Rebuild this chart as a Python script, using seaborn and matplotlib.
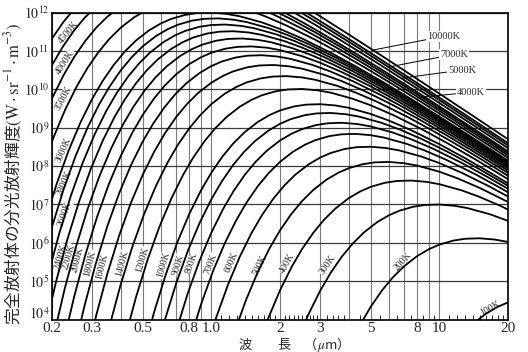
import matplotlib
matplotlib.use("Agg")
import matplotlib.pyplot as plt
import matplotlib.transforms as mtransforms
from matplotlib.ticker import FixedLocator, FixedFormatter, NullFormatter
import pandas as pd
import seaborn as sns

# ---------------------------
# Data
# ---------------------------
# points at fixed values of wavelength*temperature (um*K);
# the wavelength of a point is lam_t / T
lam_t = [400, 450, 500, 560, 630, 710, 800, 900, 1000, 1120, 1250, 1400, 1600, 1800,
         2000, 2300, 2600, 3000, 3500, 4000, 5000, 6000, 7500, 10000, 13000, 17000,
         22000, 30000, 40000, 55000, 75000, 100000, 140000, 200000]

# exponent of the spectral radiance (log10 of W sr^-1 m^-3), first value at lam_t[start]
k100 = [3.882, 4.150, 4.328, 4.447]
k200 = [3.867, 4.332, 4.756, 5.098, 5.387, 5.655, 5.833, 5.952, 6.056, 6.104, 6.116,
        6.083, 6.021]
k300 = [3.405, 4.136, 4.748, 5.213, 5.637, 5.978, 6.268, 6.536, 6.714, 6.833, 6.937,
        6.985, 6.997, 6.963, 6.901, 6.742, 6.571]
k400 = [3.171, 4.029, 4.760, 5.372, 5.837, 6.261, 6.603, 6.892, 7.160, 7.338, 7.457,
        7.561, 7.609, 7.621, 7.588, 7.526, 7.367, 7.195, 6.947, 6.579]
k500 = [3.656, 4.514, 5.245, 5.857, 6.322, 6.746, 7.087, 7.377, 7.645, 7.823, 7.942,
        8.046, 8.094, 8.106, 8.072, 8.011, 7.851, 7.680, 7.431, 7.063]
k600 = [3.068, 4.052, 4.910, 5.641, 6.253, 6.718, 7.142, 7.483, 7.773, 8.041, 8.219,
        8.338, 8.442, 8.490, 8.502, 8.468, 8.406, 8.247, 8.076, 7.827, 7.459, 7.091]
k700 = [3.403, 4.387, 5.245, 5.976, 6.588, 7.053, 7.477, 7.818, 8.108, 8.376, 8.554,
        8.673, 8.777, 8.825, 8.837, 8.803, 8.741, 8.582, 8.411, 8.162, 7.794, 7.425,
        7.025]
k800 = [3.692, 4.676, 5.534, 6.265, 6.877, 7.342, 7.766, 8.108, 8.397, 8.665, 8.843,
        8.962, 9.066, 9.114, 9.126, 9.093, 9.031, 8.872, 8.701, 8.452, 8.084, 7.715,
        7.315]
k900 = [2.855, 3.948, 4.932, 5.790, 6.521, 7.133, 7.598, 8.022, 8.364, 8.653, 8.921,
        9.099, 9.218, 9.322, 9.370, 9.382, 9.349, 9.287, 9.128, 8.956, 8.708, 8.340,
        7.971, 7.571, 7.170]
k1000 = [3.084, 4.177, 5.161, 6.019, 6.750, 7.362, 7.827, 8.251, 8.593, 8.882, 9.150,
         9.328, 9.447, 9.551, 9.599, 9.611, 9.578, 9.516, 9.356, 9.185, 8.937, 8.569,
         8.200, 7.799, 7.399]
k1200 = [3.480, 4.573, 5.557, 6.415, 7.146, 7.758, 8.223, 8.647, 8.988, 9.278, 9.546,
         9.724, 9.843, 9.947, 9.995, 10.007, 9.973, 9.912, 9.752, 9.581, 9.332, 8.965,
         8.596, 8.195, 7.794, 7.297]
k1400 = [3.815, 4.908, 5.892, 6.750, 7.481, 8.093, 8.558, 8.982, 9.323, 9.613, 9.881,
         10.059, 10.178, 10.282, 10.330, 10.342, 10.308, 10.246, 10.087, 9.916, 9.667,
         9.299, 8.930, 8.530, 8.129, 7.632]
k1600 = [2.945, 4.105, 5.198, 6.182, 7.040, 7.771, 8.383, 8.848, 9.272, 9.613, 9.903,
         10.171, 10.349, 10.468, 10.572, 10.620, 10.632, 10.598, 10.536, 10.377, 10.206,
         9.957, 9.589, 9.220, 8.820, 8.419, 7.922, 7.450]
k1800 = [3.200, 4.360, 5.453, 6.437, 7.295, 8.026, 8.638, 9.103, 9.527, 9.869, 10.158,
         10.426, 10.604, 10.723, 10.827, 10.875, 10.887, 10.854, 10.792, 10.633, 10.462,
         10.213, 9.845, 9.476, 9.076, 8.675, 8.178, 7.706]
k2000 = [3.429, 4.589, 5.682, 6.666, 7.524, 8.255, 8.867, 9.332, 9.756, 10.098, 10.387,
         10.655, 10.833, 10.952, 11.056, 11.104, 11.116, 11.083, 11.021, 10.862, 10.690,
         10.442, 10.074, 9.705, 9.305, 8.904, 8.406, 7.934]
k2200 = [3.636, 4.796, 5.889, 6.873, 7.731, 8.462, 9.074, 9.539, 9.963, 10.305, 10.594,
         10.862, 11.040, 11.159, 11.263, 11.311, 11.323, 11.290, 11.228, 11.069, 10.897,
         10.649, 10.281, 9.912, 9.512, 9.111, 8.613, 8.141, 7.611]
k2400 = [3.825, 4.985, 6.078, 7.062, 7.920, 8.651, 9.263, 9.728, 10.152, 10.494, 10.783,
         11.051, 11.229, 11.348, 11.452, 11.500, 11.512, 11.479, 11.417, 11.258, 11.086,
         10.838, 10.470, 10.101, 9.700, 9.300, 8.802, 8.330, 7.800]
k2600 = [5.159, 6.252, 7.236, 8.094, 8.825, 9.437, 9.902, 10.326, 10.667, 10.957, 11.225,
         11.403, 11.522, 11.626, 11.674, 11.686, 11.652, 11.591, 11.431, 11.260, 11.011,
         10.644, 10.275, 9.874, 9.473, 8.976, 8.504, 7.973]
k2800 = [5.320, 6.413, 7.397, 8.255, 8.986, 9.598, 10.063, 10.487, 10.828, 11.118, 11.386,
         11.564, 11.683, 11.787, 11.835, 11.847, 11.813, 11.751, 11.592, 11.421, 11.172,
         10.804, 10.436, 10.035, 9.634, 9.137, 8.665, 8.134, 7.611]
k3000 = [6.563, 7.547, 8.405, 9.136, 9.748, 10.213, 10.637, 10.978, 11.268, 11.536,
         11.714, 11.833, 11.937, 11.985, 11.997, 11.963, 11.901, 11.742, 11.571, 11.322,
         10.954, 10.585, 10.185, 9.784, 9.287, 8.815, 8.284, 7.761]
k3500 = [7.881, 8.739, 9.470, 10.082, 10.547, 10.971, 11.313, 11.602, 11.870, 12.048,
         12.167, 12.271, 12.319, 12.331, 12.298, 12.236, 12.077, 11.905, 11.657, 11.289,
         10.920, 10.520, 10.119, 9.621, 9.150, 8.619, 8.096]
k4000 = [9.029, 9.760, 10.372, 10.837, 11.261, 11.603, 11.892, 12.160, 12.338, 12.457,
         12.561, 12.609, 12.621, 12.588, 12.526, 12.367, 12.195, 11.947, 11.579, 11.210,
         10.810, 10.409, 9.911, 9.440, 8.909, 8.386, 7.897]
k4500 = [10.016, 10.628, 11.093, 11.517, 11.859, 12.148, 12.416, 12.594, 12.713, 12.817,
         12.865, 12.877, 12.844, 12.782, 12.623, 12.451, 12.203, 11.835, 11.466, 11.066,
         10.665, 10.167, 9.695, 9.165, 8.642, 8.152]
k5000 = [10.857, 11.322, 11.746, 12.087, 12.377, 12.645, 12.823, 12.942, 13.046, 13.094,
         13.106, 13.072, 13.011, 12.851, 12.680, 12.431, 12.063, 11.695, 11.294, 10.893,
         10.396, 9.924, 9.393, 8.870, 8.381]
k6000 = [12.459, 12.091, 11.690, 11.289, 10.792, 10.320, 9.789, 9.266, 8.777, 8.202]
k7000 = [12.425, 12.025, 11.624, 11.127, 10.655, 10.124, 9.601, 9.112, 8.536]
k8000 = [12.315, 11.914, 11.417, 10.945, 10.414, 9.891, 9.402, 8.826, 8.214]
k10000 = [12.399, 11.901, 11.429, 10.899, 10.375, 9.886, 9.311, 8.698]

# (temperature K, start index in lam_t, values)
curves = [
    (100, 11, k100), (200, 7, k200), (300, 5, k300), (400, 4, k400), (500, 4, k500),
    (600, 3, k600), (700, 3, k700), (800, 3, k800), (900, 2, k900), (1000, 2, k1000),
    (1200, 2, k1200), (1400, 2, k1400), (1600, 1, k1600), (1800, 1, k1800),
    (2000, 1, k2000), (2200, 1, k2200), (2400, 1, k2400), (2600, 2, k2600),
    (2800, 2, k2800), (3000, 3, k3000), (3500, 4, k3500), (4000, 5, k4000),
    (4500, 6, k4500), (5000, 7, k5000), (6000, 23, k6000), (7000, 24, k7000),
    (8000, 25, k8000), (10000, 26, k10000),
]

# on-curve labels: text, wavelength, radiance exponent, angle
left_labels = [
    ("4500K", 0.236, 11.49, 50), ("4000K", 0.228, 10.71, 57), ("3500K", 0.224, 9.76, 62),
    ("3000K", 0.224, 8.41, 66), ("2800K", 0.228, 7.55, 67), ("2600K", 0.228, 6.75, 70),
    ("2400K", 0.219, 5.63, 74), ("2200K", 0.237, 5.63, 74), ("2000K", 0.260, 5.55, 75),
    ("1800K", 0.294, 5.47, 76), ("1600K", 0.331, 5.39, 76), ("1400K", 0.406, 5.45, 75),
    ("1200K", 0.496, 5.55, 74), ("1000K", 0.614, 5.42, 74), ("900K", 0.714, 5.42, 73),
    ("800K", 0.822, 5.47, 72), ("700K", 0.996, 5.45, 70), ("600K", 1.22, 5.50, 67),
    ("500K", 1.63, 5.42, 64), ("400K", 2.14, 5.47, 60), ("300K", 3.24, 5.42, 56),
    ("200K", 6.9, 5.52, 48), ("100K", 16.7, 4.30, 30),
]
# labels with leader lines: text, label (wavelength, exp), tip (wavelength, exp)
leader_labels = [
    ("10000K", 8.83, 11.38, 5.10, 11.02),
    ("7000K", 10.1, 10.91, 5.94, 10.575),
    ("5000K", 10.9, 10.50, 6.85, 10.29),
    ("4000K", 11.9, 9.92, 8.22, 9.79),
]

x_grid = [0.2, 0.3, 0.4, 0.5, 0.6, 0.7, 0.8, 0.9, 1.0, 2, 3, 4, 5, 6, 7, 8, 9, 10, 20]
x_ticklabels = ["0.2", "0.3", "", "0.5", "", "", "0.8", "", "1.0", "2", "3", "", "5",
                "", "", "8", "", "10", "20"]
x_small = [1.1, 1.2, 1.3, 1.4, 1.5, 1.6, 1.7, 1.8, 1.9, 2.1, 2.2, 2.3, 2.4, 2.5, 2.6,
           2.7, 2.8, 2.9, 3.2, 3.4, 3.6, 3.8, 4.5, 5.5, 6.5, 7.5, 8.5, 9.5,
           11, 12, 13, 14, 15, 16, 17, 18, 19]
y_exponents = list(range(4, 13))

# ---------------------------
# Long table
# ---------------------------
rows = {"T": [], "wavelength": [], "radiance": []}
for T, start, vals in curves:
    for j, v in enumerate(vals):
        rows["T"].append(T)
        rows["wavelength"].append(lam_t[start + j] / T)
        rows["radiance"].append(10 ** v)
df = pd.DataFrame(rows)

# ---------------------------
# Plot
# ---------------------------
sns.set_theme(style="white")
plt.rcParams["font.family"] = ["Liberation Serif", "DejaVu Serif"]
plt.rcParams["mathtext.fontset"] = "stix"
cjk = ["Noto Sans CJK JP", "DejaVu Sans"]

fig = plt.figure(figsize=(5.28, 3.52), dpi=100)
ax = fig.add_axes([52 / 528, 1 - 319.5 / 352, 456 / 528, 307 / 352])
ax.set_xscale("log")
ax.set_yscale("log")

sns.lineplot(
    data=df, x="wavelength", y="radiance", hue="T",
    palette=["black"] * len(curves), estimator=None, sort=False,
    legend=False, linewidth=1.3, ax=ax, zorder=3,
)

ax.set_xlim(0.2, 20)
ax.set_ylim(1e4, 1e12)
ax.set_xlabel("")
ax.set_ylabel("")

ax.xaxis.set_major_locator(FixedLocator(x_grid))
ax.xaxis.set_major_formatter(FixedFormatter(x_ticklabels))
ax.xaxis.set_minor_locator(FixedLocator(x_small))
ax.xaxis.set_minor_formatter(NullFormatter())
ax.yaxis.set_major_locator(FixedLocator([10.0 ** e for e in y_exponents]))
ax.yaxis.set_major_formatter(FixedFormatter([f"$10^{{{e}}}$" for e in y_exponents]))
ax.yaxis.set_minor_locator(FixedLocator([]))

ax.tick_params(axis="x", which="major", length=0, pad=2, labelsize=11)
ax.tick_params(axis="x", which="minor", direction="in", length=3.5, width=0.6,
               color="black", bottom=True)
ax.tick_params(axis="y", which="major", length=0, pad=2, labelsize=10)

# lift the bottom "10^4" a little, as in the original, to clear the "0.2"
lift = mtransforms.ScaledTranslation(0, 7 / 100, fig.dpi_scale_trans)
ylab0 = ax.yaxis.get_major_ticks()[0].label1
ylab0.set_transform(ylab0.get_transform() + lift)

ax.set_axisbelow(True)
ax.grid(True, axis="x", which="major", color="#7a7a7a", linewidth=0.8)
ax.grid(True, axis="y", which="major", color="#3a3a3a", linewidth=0.9)
for s in ax.spines.values():
    s.set_color("black")
    s.set_linewidth(1.2)

for text, lam, e, ang in left_labels:
    ax.text(lam, 10 ** e, text, rotation=ang, fontsize=7, ha="center", va="center",
            rotation_mode="anchor", zorder=2.5,
            bbox=dict(boxstyle="square,pad=0.05", fc="white", ec="none"))

for text, lx, le, tx, te in leader_labels:
    ax.annotate(text, xy=(tx, 10 ** te), xytext=(lx, 10 ** le), fontsize=7.5,
                ha="left", va="center", zorder=4,
                bbox=dict(boxstyle="square,pad=0.1", fc="white", ec="none"),
                arrowprops=dict(arrowstyle="-", lw=0.7, color="black",
                                shrinkA=0, shrinkB=0))

fig.text(13.5 / 528, 0.505,
         r"完全放射体の分光放射輝度$(\mathrm{W\cdot sr^{-1}\cdot m^{-3}})$",
         rotation=90, fontsize=12, family=cjk, ha="center", va="center")
fig.text(290 / 528, 1 - 344 / 352, "波　　長　（$\\mu$m）", fontsize=9.5, family=cjk,
         ha="center", va="center")

fig.savefig("out.png", dpi=100)
plt.close(fig)
